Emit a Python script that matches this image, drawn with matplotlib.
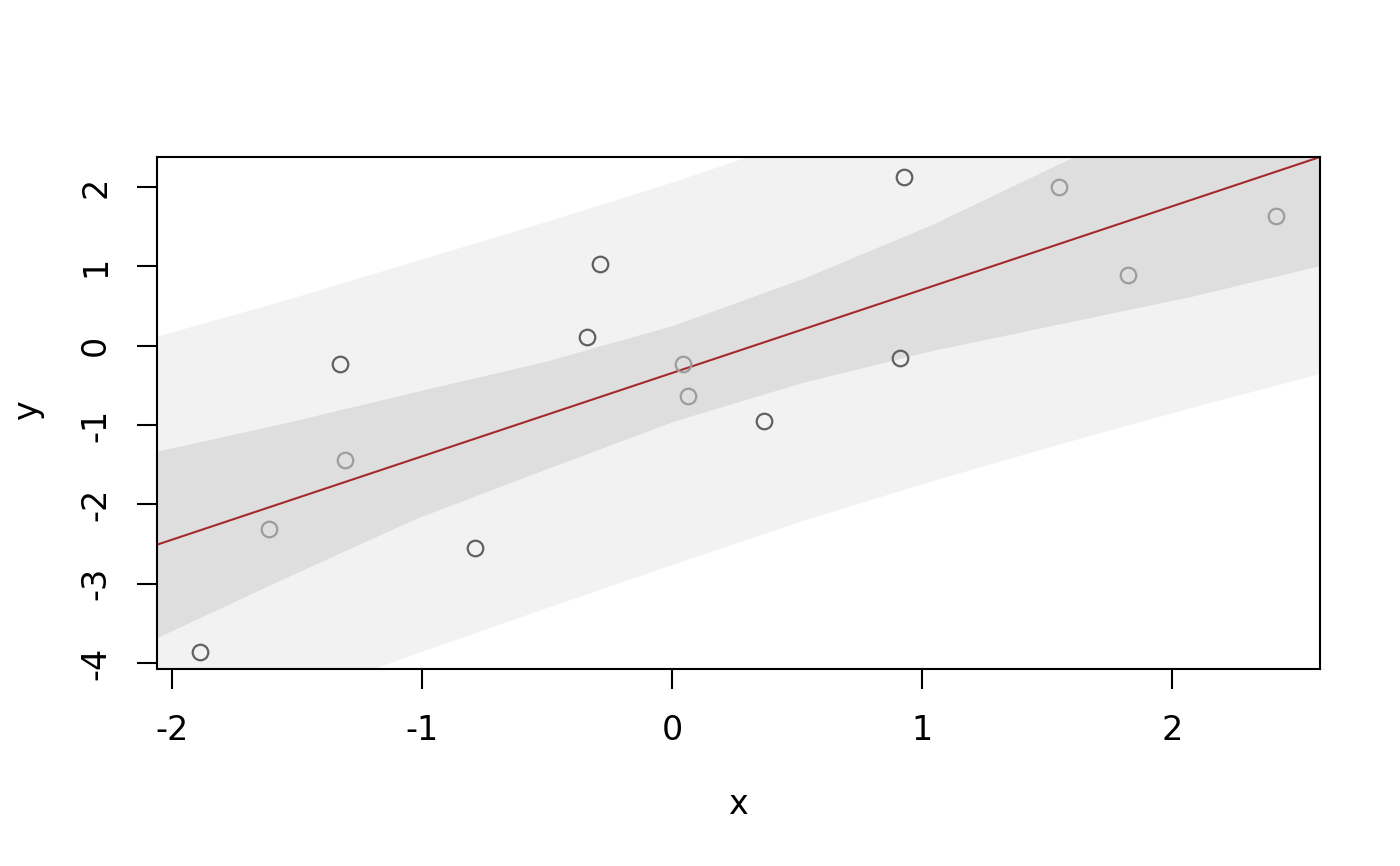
import matplotlib
matplotlib.use("Agg")
import matplotlib.pyplot as plt
import numpy as np

plt.rcParams['axes.unicode_minus'] = False

# points (dark and light circles)
x_dark = [-1.888, -1.328, -0.788, -0.340, -0.288, 0.368, 0.912, 0.928]
y_dark = [-3.86, -0.227, -2.547, 0.113, 1.034, -0.946, -0.151, 2.131]
x_light = [-1.612, -1.308, 0.044, 0.064, 1.548, 1.824, 2.416]
y_light = [-2.308, -1.438, -0.227, -0.630, 2.005, 0.895, 1.639]

# fitted line
line_x = [-2.06, 2.592]
line_y = [-2.509, 2.378]

# bands on a grid across the plot
band_x = [-2.06, -1.543, -1.026, -0.509, 0.008, 0.525, 1.042, 1.559, 2.075, 2.592]
outer_hi = [0.12, 0.58, 1.07, 1.56, 2.07, 2.62, 3.20, 3.81, 4.45, 5.11]
outer_lo = [-5.12, -4.47, -3.88, -3.31, -2.75, -2.20, -1.70, -1.23, -0.78, -0.35]
inner_hi = [-1.33, -0.97, -0.58, -0.20, 0.26, 0.85, 1.53, 2.31, 3.05, 3.75]
inner_lo = [-3.68, -2.92, -2.18, -1.56, -0.95, -0.46, -0.06, 0.28, 0.62, 1.01]

fig = plt.figure(figsize=(7, 4.33), dpi=200)
ax = fig.add_axes([157/1400, 1 - 669/866, (1320 - 157)/1400, (669 - 157)/866])

ax.fill_between(band_x, outer_lo, outer_hi, color='#f2f2f2', lw=0)
ax.fill_between(band_x, inner_lo, inner_hi, color='#dedede', lw=0)
ax.plot(line_x, line_y, color='#a52a2a', lw=0.75)
ax.plot(x_dark, y_dark, 'o', mfc='none', mec='#606060', ms=5.6, mew=0.8)
ax.plot(x_light, y_light, 'o', mfc='none', mec='#9c9c9c', ms=5.6, mew=0.8)

ax.set_xlim(-2.06, 2.592)
ax.set_ylim(-4.076, 2.378)
ax.set_xticks([-2, -1, 0, 1, 2])
ax.set_yticks([-4, -3, -2, -1, 0, 1, 2])
ax.tick_params(length=7.2, width=0.75, labelsize=12, pad=9)
for lab in ax.get_yticklabels():
    lab.set_rotation(90)
    lab.set_va('center')
for s in ax.spines.values():
    s.set_linewidth(0.75)

fig.text(738/1400, 1 - 805/866, 'x', ha='center', va='center', fontsize=12)
fig.text(28/1400, 1 - 410/866, 'y', ha='center', va='center', fontsize=12, rotation=90)

plt.savefig('out.png')
